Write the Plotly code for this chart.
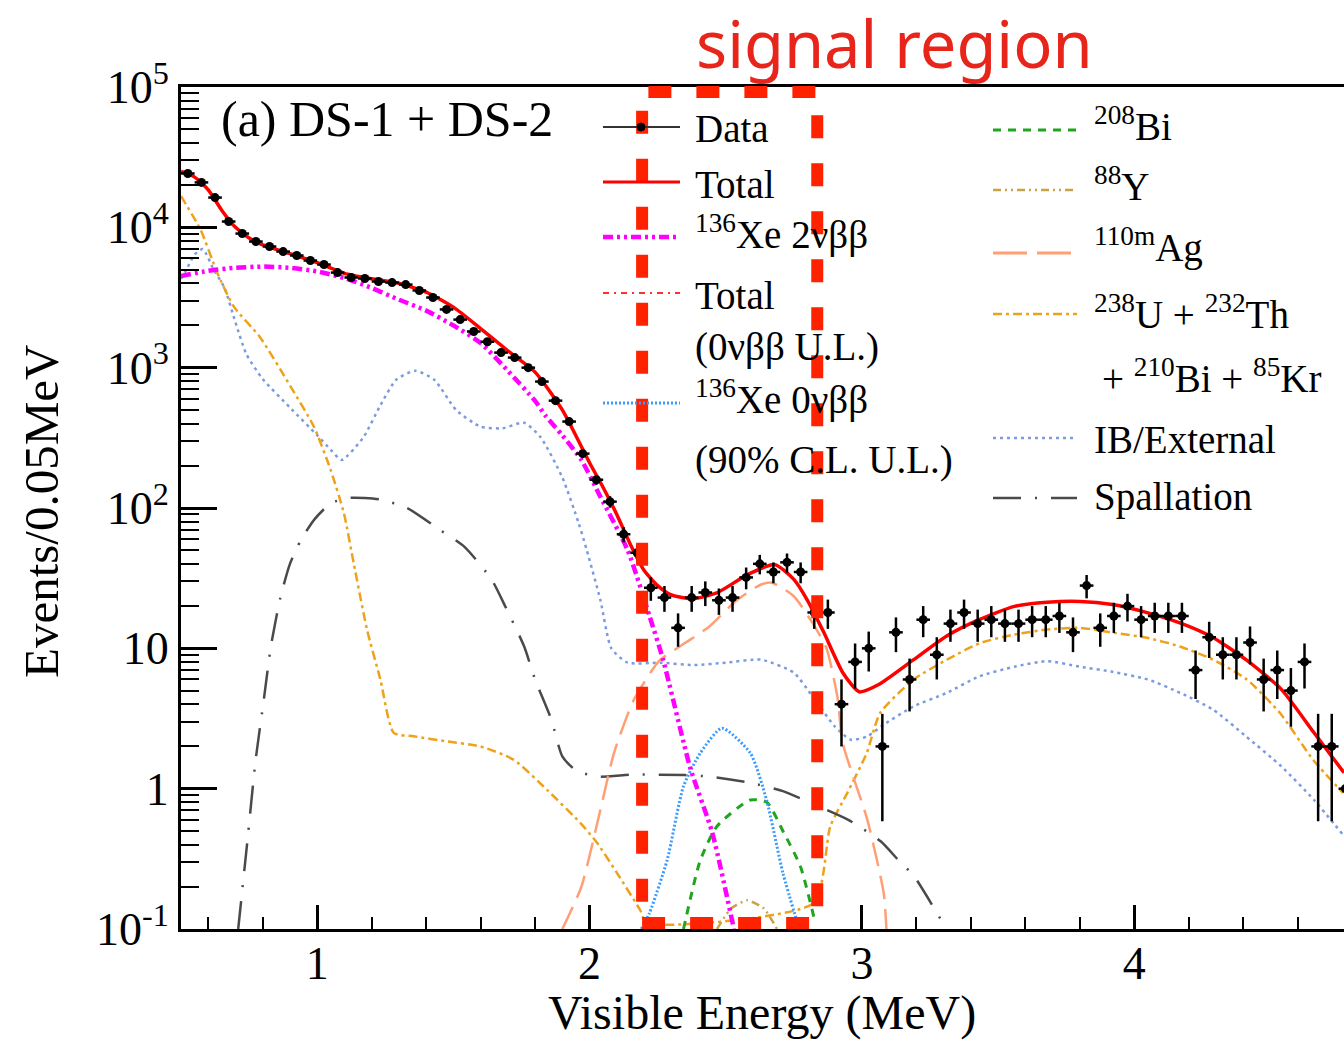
import numpy as np
import plotly.graph_objects as go

# ---------------- data ----------------
bin_width = 0.05
x_data = np.round(np.arange(0.525, 4.80, bin_width), 3)
counts = [24200, 20900, 16300, 11000, 9030, 7920, 7300, 6720, 6300, 5800,
          5430, 4760, 4390, 4320, 4110, 4040, 3910, 3550, 3160, 2600,
          2200, 1810, 1530, 1280, 1180, 1000, 796, 582, 413, 244,
          159, 111, 65, 48, 27, 23, 14, 23, 25, 22,
          23, 32, 40, 35, 41, 35, 18, 18, 4, 8,
          10, 2, 13, 6, 16, 9, 15, 18, 15, 16,
          15, 15, 16, 16, 17, 13, 28, 14, 17, 20,
          16, 17, 17, 17, 7, 12, 9, 9, 11, 6,
          7, 5, 8, 2, 2, 1]

total_x = [0.5, 0.55, 0.6, 0.65, 0.7, 0.75, 0.8, 0.9, 1.0, 1.1, 1.2, 1.3, 1.4, 1.5, 1.6, 1.7,
           1.8, 1.9, 2.0, 2.05, 2.1, 2.15, 2.2, 2.25, 2.3, 2.38, 2.47, 2.58, 2.68, 2.75, 2.8,
           2.86, 2.93, 2.99, 3.06, 3.19, 3.31, 3.43, 3.56, 3.68, 3.8, 3.92, 4.05, 4.17, 4.29,
           4.41, 4.54, 4.66, 4.77]
total_y = [25000, 22800, 18500, 13200, 10000, 8400, 7500, 6500, 5600, 4700, 4300, 4000, 3450,
           2700, 1900, 1320, 930, 500, 210, 140, 90, 55, 36, 28, 24, 22.5, 25, 33.5, 39.5, 31, 22,
           13, 6.7, 4.9, 5.5, 8.3, 12.2, 16, 19.9, 21.3, 21.6, 20.5, 17.9, 15.1, 11.9,
           8.3, 5.1, 2.5, 1.3]

xe2v_x = [0.5, 0.6, 0.7, 0.8, 0.9, 1.0, 1.1, 1.2, 1.3, 1.4, 1.5, 1.6, 1.7, 1.8, 1.84, 1.9,
          1.97, 2.04, 2.14, 2.22, 2.27, 2.37, 2.45, 2.53]
xe2v_y = [4500, 4900, 5150, 5250, 5150, 4850, 4350, 3700, 3050, 2550, 2000, 1500, 950, 580,
          450, 330, 220, 120, 50, 17, 8.3, 1.4, 0.49, 0.1]

xe0v_x = [2.19, 2.22, 2.285, 2.345, 2.407, 2.486, 2.59, 2.65, 2.71, 2.77]
xe0v_y = [0.1, 0.13, 0.31, 1.04, 1.8, 2.7, 1.8, 0.83, 0.25, 0.1]

bi208_x = [2.345, 2.407, 2.468, 2.59, 2.651, 2.712, 2.774, 2.829]
bi208_y = [0.1, 0.31, 0.54, 0.83, 0.8, 0.49, 0.28, 0.11]

y88_x = [2.468, 2.52, 2.578, 2.64, 2.688]
y88_y = [0.1, 0.14, 0.16, 0.14, 0.1]

ag_x = [1.9, 1.97, 2.04, 2.09, 2.16, 2.23, 2.26, 2.35, 2.44, 2.54, 2.63, 2.67, 2.75, 2.82,
        2.87, 2.91, 2.93, 3.02, 3.08, 3.09]
ag_y = [0.1, 0.2, 0.71, 1.8, 4.2, 7.0, 8.3, 10.9, 14.3, 22, 28.5, 29.3, 23.5, 15, 10, 4.5,
        2.1, 0.6, 0.18, 0.1]

uth_x = [0.5, 0.572, 0.633, 0.694, 0.79, 0.902, 0.988, 1.049, 1.098, 1.134, 1.183, 1.232,
         1.281, 1.355, 1.477, 1.599, 1.721, 1.844, 1.966, 2.028, 2.101, 2.186, 2.21,
         2.822, 2.884, 2.946, 3.018, 3.067, 3.19, 3.312, 3.434, 3.556, 3.679, 3.8, 3.923,
         4.046, 4.168, 4.29, 4.413, 4.535, 4.657, 4.767]
uth_y = [16700, 9600, 4750, 2720, 1650, 735, 380, 188, 92, 40.5, 13.6, 6.0,
         2.5, 2.36, 2.17, 2.0, 1.61, 0.98, 0.57, 0.41, 0.25, 0.136, 0.11,
         0.153, 0.54, 0.93, 1.8, 3.46, 6.0, 8.3, 10.9, 12.5, 13.6, 14.0, 12.9,
         11.9, 10.3, 8.3, 6.0, 3.46, 1.6, 0.93]

ib_x = [0.5, 0.52, 0.55, 0.58, 0.62, 0.66, 0.7, 0.74, 0.8, 0.9, 1.0, 1.05, 1.09, 1.17, 1.23,
        1.29, 1.36, 1.43, 1.51, 1.6, 1.68, 1.76, 1.82, 1.9, 1.96, 1.99, 2.04, 2.08, 2.14,
        2.26, 2.38, 2.5, 2.63, 2.75, 2.82, 2.9, 2.96, 3.02, 3.08, 3.19, 3.31, 3.43, 3.56,
        3.68, 3.8, 3.92, 4.05, 4.17, 4.29, 4.41, 4.54, 4.66, 4.77]
ib_y = [4300, 5000, 6400, 7000, 5000, 3700, 2100, 1250, 830, 520, 330, 260, 220, 320, 530,
        820, 950, 820, 500, 380, 370, 405, 320, 165, 78, 50, 22, 10, 7.9,
        7.9, 7.6, 7.9, 8.3, 6.7, 4.5, 2.78, 2.23, 2.36, 2.86, 3.86, 4.8, 6.3, 7.4,
        8.1, 7.4, 6.8, 6.0, 4.8, 3.65, 2.36, 1.44, 0.83, 0.46]

spal_x = [0.71, 0.743, 0.774, 0.804, 0.83, 0.865, 0.9, 0.94, 0.99, 1.05, 1.12, 1.23, 1.33,
          1.45, 1.54, 1.64, 1.69, 1.76, 1.8, 1.86, 1.9, 1.95, 2.03, 2.16, 2.35, 2.44, 2.59,
          2.71, 2.84, 2.95, 3.07, 3.14, 3.19, 3.31]
spal_y = [0.1, 0.41, 1.6, 4.3, 10.3, 23, 40, 59, 83, 108, 118, 115, 100, 70, 53, 31, 20,
          10.3, 6.0, 3.1, 1.7, 1.35, 1.22, 1.26, 1.25, 1.22, 1.1, 0.96, 0.75, 0.6, 0.42,
          0.3, 0.24, 0.1]

signal_region = [2.193, 2.836]
x_range = [0.5, 4.77]
y_ticks = [0.1, 1, 10, 100, 1000, 10000, 100000]
y_ticktext = ["10<sup>-1</sup>", "1", "10", "10<sup>2</sup>", "10<sup>3</sup>",
              "10<sup>4</sup>", "10<sup>5</sup>"]
x_ticks = [1, 2, 3, 4]

# ---------------- figure ----------------
W, H = 1344, 1040
L, R, T, B = 181, 1344, 87, 929
SERIF = "Liberation Serif, Times New Roman, serif"

fig = go.Figure()

def curve(x, y, color, width, dash, shape="spline"):
    fig.add_trace(go.Scatter(x=x, y=y, mode="lines", showlegend=False, hoverinfo="skip",
                             line=dict(color=color, width=width, dash=dash, shape=shape,
                                       smoothing=0.6)))

curve(ib_x, ib_y, "#7b9be0", 2.5, "3px,4px")
curve(uth_x, uth_y, "#eea21a", 2.5, "9px,4px,3px,4px")
curve(spal_x, spal_y, "#4a4a4a", 2.5, "28px,14px,2px,14px")
curve(ag_x, ag_y, "#ff9f75", 2.5, "24px,10px")
curve(y88_x, y88_y, "#c9a24a", 2.5, "8px,4px,2px,4px,2px,4px")
curve(bi208_x, bi208_y, "#1fa51f", 3, "8px,7px")
curve(xe0v_x, xe0v_y, "#3a9bff", 3, "2px,2px")
curve(xe2v_x, xe2v_y, "#ff00ff", 4.5, "10px,4px,3px,4px,3px,4px")
curve(total_x, total_y, "#ff3030", 2, "6px,5px,2px,5px")
curve(total_x, total_y, "#ff0000", 3.5, "solid")

fig.add_trace(go.Scatter(
    x=x_data, y=counts, mode="markers", showlegend=False, hoverinfo="skip",
    marker=dict(color="black", size=9),
    error_x=dict(type="constant", value=bin_width / 2, width=0, thickness=2.5, color="black"),
    error_y=dict(type="sqrt", width=0, thickness=2.5, color="black"),
))

# ---------------- layout helpers ----------------
def px(xp):
    return (xp - L) / (R - L)

def py(yp):
    return (B - yp) / (B - T)

shapes = []
annotations = []

# signal region box
shapes.append(dict(type="rect", xref="x", yref="paper", x0=signal_region[0], x1=signal_region[1],
                   y0=py(923), y1=py(92), line=dict(color="#ff2200", width=12, dash="23px,25px"),
                   layer="above"))
annotations.append(dict(text="signal region", xref="paper", yref="paper", x=px(894), y=py(43),
                        xanchor="center", yanchor="middle", showarrow=False,
                        font=dict(family="Noto Sans, sans-serif", size=65, color="#e8251b")))

annotations.append(dict(text="(a) DS-1 + DS-2", xref="paper", yref="paper", x=px(219), y=py(119),
                        xanchor="left", yanchor="middle", showarrow=False,
                        font=dict(family=SERIF, size=50, color="black")))

# axis titles
annotations.append(dict(text="Visible Energy (MeV)", xref="paper", yref="paper", x=px(762),
                        y=py(1013), xanchor="center", yanchor="middle", showarrow=False,
                        font=dict(family=SERIF, size=48, color="black")))
annotations.append(dict(text="Events/0.05MeV", xref="paper", yref="paper", x=px(41),
                        y=py(512), xanchor="center", yanchor="middle", showarrow=False,
                        textangle=-90, font=dict(family=SERIF, size=49, color="black")))

# legend
def sample(x0, x1, yp, color, width, dash):
    shapes.append(dict(type="line", xref="paper", yref="paper", x0=px(x0), x1=px(x1),
                       y0=py(yp), y1=py(yp), line=dict(color=color, width=width, dash=dash)))

def label(text, xp, yp, size=39):
    annotations.append(dict(text=text, xref="paper", yref="paper", x=px(xp), y=py(yp),
                            xanchor="left", yanchor="middle", showarrow=False,
                            font=dict(family=SERIF, size=size, color="black")))

c1a, c1b, t1 = 603, 680, 693
sample(c1a, c1b, 127, "#333333", 2, "solid")
shapes.append(dict(type="circle", xref="paper", yref="paper", x0=px(637), x1=px(645),
                   y0=py(131), y1=py(123), fillcolor="black", line=dict(color="black", width=1)))
label("Data", t1, 128)
sample(c1a, c1b, 182, "#ff0000", 3, "solid")
label("Total", t1, 184)
sample(c1a, c1b, 237, "#ff00ff", 4.5, "10px,4px,3px,4px,3px,4px")
label("<sup>136</sup>Xe 2νββ", t1, 232)
sample(c1a, c1b, 293, "#ff3030", 2, "6px,5px,2px,5px")
label("Total", t1, 295)
label("(0νββ U.L.)", t1, 347)
sample(c1a, c1b, 403, "#3a9bff", 3, "2px,2px")
label("<sup>136</sup>Xe 0νββ", t1, 397)
label("(90% C.L. U.L.)", t1, 460)

c2a, c2b, t2 = 993, 1077, 1092
sample(c2a, c2b, 130, "#1fa51f", 3, "8px,7px")
label("<sup>208</sup>Bi", t2, 124)
sample(c2a, c2b, 190, "#c9a24a", 2.5, "8px,4px,2px,4px,2px,4px")
label("<sup>88</sup>Y", t2, 184)
sample(c2a, c2b, 253, "#ff9f75", 3, "34px,10px")
label("<sup>110m</sup>Ag", t2, 246)
sample(c2a, c2b, 314, "#eea21a", 2.5, "9px,4px,3px,4px")
label("<sup>238</sup>U + <sup>232</sup>Th", t2, 312)
label("+ <sup>210</sup>Bi + <sup>85</sup>Kr", 1100, 376)
sample(c2a, c2b, 438, "#7b9be0", 2.5, "3px,4px")
label("IB/External", t2, 440)
sample(c2a, c2b, 498, "#4a4a4a", 2.5, "28px,14px,2px,14px")
label("Spallation", t2, 497)

minor_y = [m * 10.0 ** e for e in range(-1, 5) for m in range(2, 10)]

fig.update_layout(
    width=W, height=H,
    margin=dict(l=L, r=W - R, t=T, b=H - B, pad=0, autoexpand=False),
    paper_bgcolor="white", plot_bgcolor="white",
    shapes=shapes, annotations=annotations,
    font=dict(family=SERIF, color="black"),
    xaxis=dict(range=x_range, showgrid=False, zeroline=False, showline=True, linecolor="black",
               linewidth=3, mirror=True, ticks="inside", ticklen=24, tickwidth=2.5,
               tickcolor="black", tickvals=x_ticks, ticktext=[str(v) for v in x_ticks],
               tickfont=dict(family=SERIF, size=46, color="black"), ticklabelstandoff=-8,
               automargin=False,
               minor=dict(ticks="inside", ticklen=12, tickwidth=2, tickcolor="black",
                          dtick=0.2, tick0=0)),
    yaxis=dict(type="log", range=[-1, 5], showgrid=False, zeroline=False, showline=True,
               linecolor="black", linewidth=3, ticks="inside", ticklen=36, tickwidth=2.5,
               tickcolor="black", tickvals=y_ticks, ticktext=y_ticktext,
               tickfont=dict(family=SERIF, size=46, color="black"), automargin=False,
               minor=dict(ticks="inside", ticklen=18, tickwidth=2, tickcolor="black",
                          tickvals=minor_y)),
)

fig.write_html("out.html", config={"displayModeBar": False},
               post_script="document.body.style.margin='0px';document.body.style.overflow='hidden';")
